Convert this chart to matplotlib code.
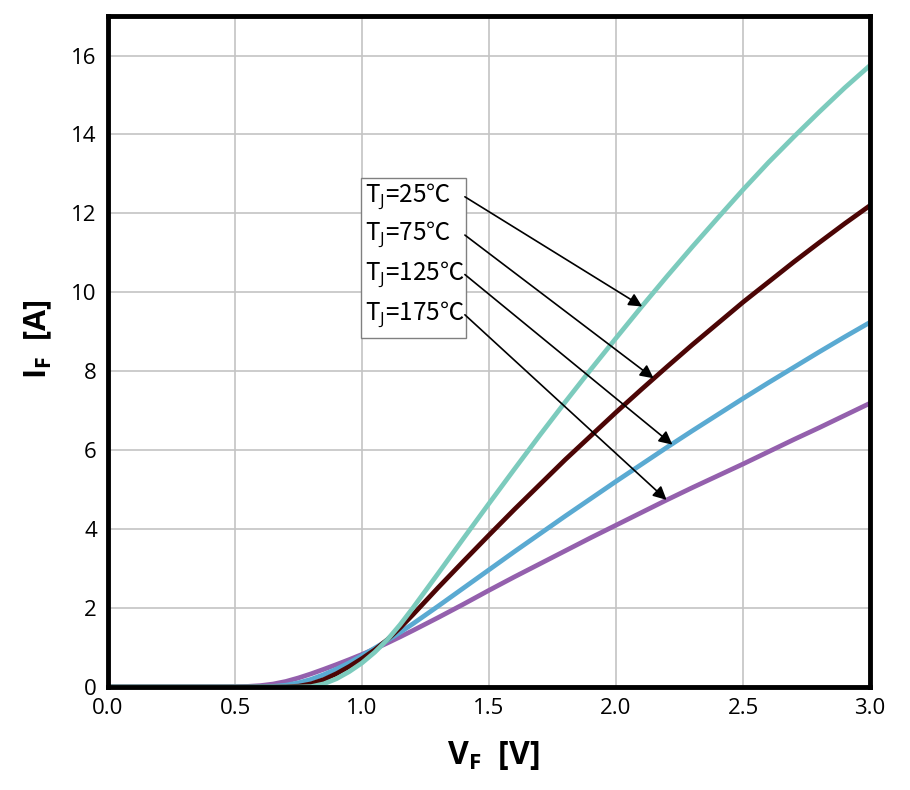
import matplotlib
matplotlib.use("Agg")
import matplotlib.pyplot as plt
from matplotlib.patches import Rectangle

# ---- data ----
vf = [0.0, 0.5, 0.55, 0.6, 0.65, 0.7, 0.75, 0.8, 0.85, 0.9, 0.95, 1.0, 1.05, 1.1,
      1.15, 1.2, 1.3, 1.4, 1.5, 1.6, 1.7, 1.8, 1.9, 2.0, 2.1, 2.2, 2.3, 2.4, 2.5,
      2.6, 2.7, 2.8, 2.9, 3.0]
if_25 = [0, 0, 0, 0, 0, 0, 0, 0.01, 0.08, 0.21, 0.39, 0.61, 0.88, 1.2,
         1.58, 2.0, 2.88, 3.77, 4.65, 5.52, 6.38, 7.22, 8.04, 8.84, 9.63, 10.4, 11.15, 11.88, 12.6,
         13.29, 13.94, 14.57, 15.18, 15.75]
if_75 = [0, 0, 0, 0, 0, 0.005, 0.02, 0.08, 0.19, 0.34, 0.52, 0.72, 0.94, 1.2,
         1.5, 1.83, 2.52, 3.19, 3.85, 4.5, 5.13, 5.76, 6.36, 6.96, 7.54, 8.11, 8.67, 9.21, 9.75,
         10.26, 10.77, 11.26, 11.74, 12.2]
if_125 = [0, 0, 0, 0.005, 0.015, 0.045, 0.105, 0.195, 0.315, 0.455, 0.615, 0.795, 0.985, 1.18,
          1.385, 1.6, 2.05, 2.51, 2.97, 3.43, 3.88, 4.33, 4.77, 5.21, 5.64, 6.07, 6.49, 6.9, 7.31,
          7.71, 8.1, 8.49, 8.87, 9.24]
if_175 = [0, 0.005, 0.015, 0.035, 0.075, 0.14, 0.23, 0.335, 0.45, 0.57, 0.695, 0.825, 0.965, 1.115,
          1.27, 1.43, 1.76, 2.1, 2.45, 2.79, 3.12, 3.45, 3.78, 4.1, 4.42, 4.74, 5.05, 5.35, 5.65,
          5.96, 6.27, 6.57, 6.88, 7.19]
temps = ["25", "75", "125", "175"]
colors = ["#7ccbbd", "#4c0505", "#5aaad2", "#9460ad"]
x_ticks = [0.0, 0.5, 1.0, 1.5, 2.0, 2.5, 3.0]
y_ticks = [0, 2, 4, 6, 8, 10, 12, 14, 16]
# arrow start (label side) and tip (curve side)
arrow_start = [(1.405, 12.42), (1.405, 11.45), (1.405, 10.45), (1.405, 9.43)]
arrow_tip = [(2.103, 9.64), (2.148, 7.82), (2.222, 6.14), (2.199, 4.74)]
label_y = [12.42, 11.45, 10.45, 9.43]

FONT = ["Open Sans", "DejaVu Sans"]
plt.rcParams["font.family"] = FONT
plt.rcParams["mathtext.fontset"] = "custom"
plt.rcParams["mathtext.rm"] = "Open Sans"
plt.rcParams["mathtext.bf"] = "Open Sans:bold"

fig = plt.figure(figsize=(9.1, 7.9), dpi=100)
ax = fig.add_axes([0.1187, 0.1304, 0.8374, 0.8493])

series = [if_25, if_75, if_125, if_175]
for ys, c in zip(series[::-1], colors[::-1]):
    ax.plot(vf, ys, color=c, lw=3.4, solid_joinstyle="round", zorder=3)

ax.set_xlim(0, 3.0)
ax.set_ylim(0, 17)
ax.set_xticks(x_ticks)
ax.set_xticklabels([f"{t:.1f}" for t in x_ticks])
ax.set_yticks(y_ticks)
ax.set_yticklabels([str(t) for t in y_ticks])
ax.tick_params(length=0, labelsize=16, pad=8)
ax.grid(True, color="#c4c4c4", lw=1.2)
ax.set_axisbelow(True)
for s in ax.spines.values():
    s.set_linewidth(3.5)
    s.set_color("black")
    s.set_zorder(5)

fig.text(493 / 910, 1 - 755 / 790, r"$\mathbf{V_F}$  [V]", fontsize=23,
         fontweight="bold", ha="center", va="center")
fig.text(38 / 910, 1 - 339 / 790, r"$\mathbf{I_F}$  [A]", fontsize=22,
         fontweight="bold", ha="center", va="center", rotation=90)

# label box
ax.add_patch(Rectangle((0.997, 8.85), 1.411 - 0.997, 12.90 - 8.85,
                       facecolor="white", edgecolor="#808080", lw=1.0, zorder=4))
for i, t in enumerate(temps):
    ax.text(1.013, label_y[i], r"T$_\mathrm{J}$=" + t + "\u2103", fontsize=17.5,
            family=["Noto Sans CJK SC", "DejaVu Sans"],
            va="center", ha="left", zorder=6)
    ax.annotate("", xy=arrow_tip[i], xytext=arrow_start[i],
                arrowprops=dict(arrowstyle="-|>", color="black", lw=1.2,
                                mutation_scale=20, shrinkA=0, shrinkB=0),
                zorder=6)

fig.savefig("out.png", dpi=100)
